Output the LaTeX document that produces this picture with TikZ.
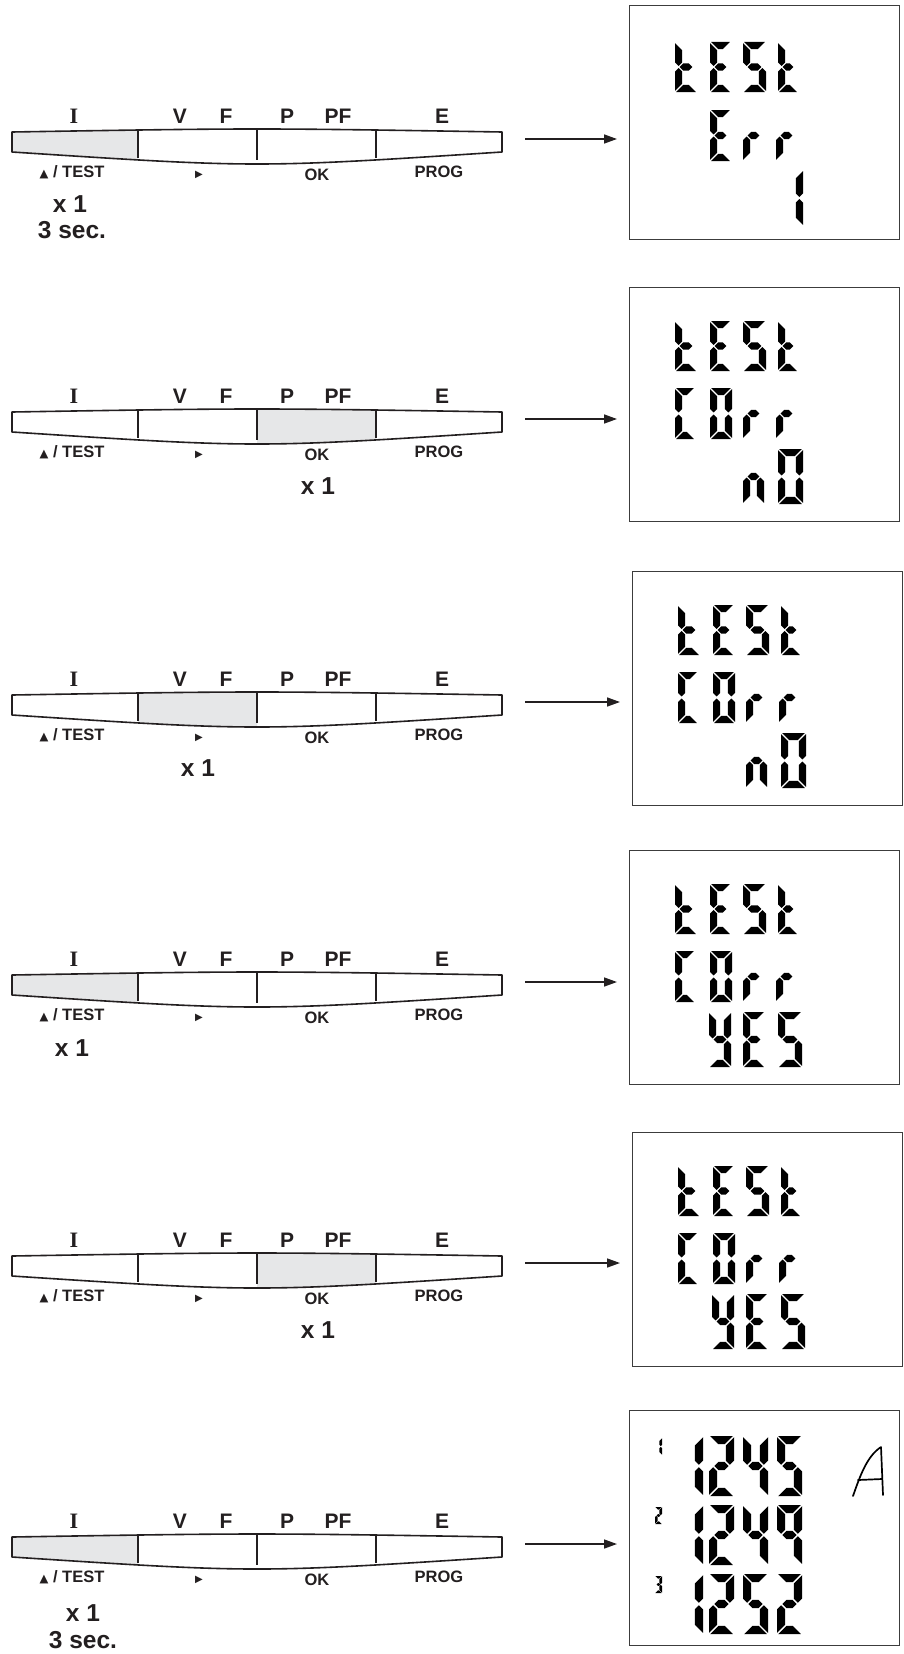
\documentclass[tikz,border=0pt]{standalone}
\usepackage{fontspec}
\usetikzlibrary{arrows.meta}
\newfontfamily\hfont{Liberation Sans}
\newfontfamily\symfont{DejaVu Sans}
\newfontfamily\serfont{Liberation Serif}
\definecolor{ink}{HTML}{231F20}
\definecolor{keyshade}{HTML}{E6E7E8}
\definecolor{frame}{HTML}{3C3C3C}
\tikzset{
 toplbl/.style={font=\hfont\bfseries\fontsize{21}{21}\selectfont, anchor=base, inner sep=0pt, text=ink},
 serlbl/.style={font=\serfont\bfseries\fontsize{22}{22}\selectfont, anchor=base, inner sep=0pt, text=ink},
 botlbl/.style={font=\hfont\bfseries\fontsize{16.5}{16.5}\selectfont, anchor=base, inner sep=0pt, text=ink},
 cnt/.style={font=\hfont\bfseries\fontsize{24.5}{24.5}\selectfont, anchor=base, inner sep=0pt, text=ink},
 barline/.style={draw=ink, line width=1.6pt, line join=round},
 dispbox/.style={draw=frame, line width=1.4pt, minimum width=270pt, minimum height=234pt, anchor=north west, inner sep=0pt},
 flow/.style={draw=ink, line width=1.5pt, -{Triangle[length=13pt,width=9pt]}},
 seg/.style={fill=black},
}
\def\lcdsega{\fill[seg] (\G,0) -- (\W-\G,0) -- (\W-\T-\G,\T) -- (\T+\G,\T) -- cycle;}
\def\lcdsegd{\fill[seg] (\G,\H) -- (\W-\G,\H) -- (\W-\T-\G,\H-\T) -- (\T+\G,\H-\T) -- cycle;}
\def\lcdsegf{\fill[seg] (0,\G) -- (\T,\T+\G) -- (\T,\H/2-\T/2-\G) -- (\T/2,\H/2-\G) -- (0,\H/2-\T/2-\G) -- cycle;}
\def\lcdsege{\fill[seg] (0,\H-\G) -- (\T,\H-\T-\G) -- (\T,\H/2+\T/2+\G) -- (\T/2,\H/2+\G) -- (0,\H/2+\T/2+\G) -- cycle;}
\def\lcdsegb{\fill[seg] (\W,\G) -- (\W-\T,\T+\G) -- (\W-\T,\H/2-\T/2-\G) -- (\W-\T/2,\H/2-\G) -- (\W,\H/2-\T/2-\G) -- cycle;}
\def\lcdsegc{\fill[seg] (\W,\H-\G) -- (\W-\T,\H-\T-\G) -- (\W-\T,\H/2+\T/2+\G) -- (\W-\T/2,\H/2+\G) -- (\W,\H/2+\T/2+\G) -- cycle;}
\def\lcdsegg{\fill[seg] (\T/2+\G,\H/2) -- (\T+\G,\H/2-\T/2) -- (\W-\T-\G,\H/2-\T/2) -- (\W-\T/2-\G,\H/2) -- (\W-\T-\G,\H/2+\T/2) -- (\T+\G,\H/2+\T/2) -- cycle;}
\newcommand\lcd[6]{%
 \begin{scope}[shift={(#1,#2)}]
  \def\W{#3}\def\H{#4}\def\T{#5}\pgfmathsetmacro\G{0.15*#5}
  \foreach \s in #6 {\csname lcdseg\s\endcsname}
 \end{scope}}
% glyph segment lists
\def\Gt{f,e,g,d}\def\GE{a,f,g,e,d}\def\GS{a,f,g,c,d}\def\GC{a,f,e,d}
\def\GO{a,b,c,d,e,f}\def\Gr{e,g}\def\Gn{e,g,c}\def\GY{f,b,g,c,d}
\def\Gone{b,c}\def\Gtwo{a,b,g,e,d}\def\Gfour{f,g,b,c}\def\Gfive{a,f,g,c,d}\def\Gnine{a,b,c,f,g}\def\Gthree{a,b,g,c,d}
\def\TT{7.2}
\newcommand\testline[1]{%
 \lcd{46}{#1}{22}{50}{\TT}{\Gt}\lcd{81}{#1}{21}{50}{\TT}{\GE}
 \lcd{114}{#1}{23}{50}{\TT}{\GS}\lcd{149}{#1}{20}{50}{\TT}{\Gt}}
\newcommand\rline[1]{%
 \lcd{114}{#1}{21}{51}{\TT}{\Gr}\lcd{147}{#1}{21}{51}{\TT}{\Gr}}
\newcommand\corrline{%
 \lcd{46}{101}{20}{51}{\TT}{\GC}\lcd{81}{101}{22}{51}{\TT}{\GO}\rline{101}}
\newcommand\keybar[4]{%
 \begin{scope}[shift={(0,#2)}]
  \begin{scope}
   \clip (#3,-30) rectangle (#4,30);
   \fill[keyshade] (12,-10) .. controls (257,-14) .. (502,-10) -- (502,10) .. controls (257,26) .. (12,10) -- cycle;
  \end{scope}
  \draw[barline] (12,-10) .. controls (257,-14) .. (502,-10) -- (502,10) .. controls (257,26) .. (12,10) -- cycle;
  \draw[barline] (138,-11.5) -- (138,16.1) (257,-12) -- (257,18) (376,-11.5) -- (376,16.1);
  \node[serlbl] at (74,-19) {I};
  \node[toplbl] at (180,-19) {V};
  \node[toplbl] at (226,-19) {F};
  \node[toplbl] at (287,-19) {P};
  \node[toplbl] at (338,-19) {PF};
  \node[toplbl] at (442,-19) {E};
  \node[botlbl] at (72,35) {{\symfont\fontsize{11.5}{11.5}\selectfont ▲} / TEST};
  \node[font=\symfont\fontsize{10}{10}\selectfont, inner sep=0pt, text=ink] at (199,33) {▶};
  \node[botlbl] at (317,38) {OK};
  \node[botlbl] at (439,35) {PROG};
  \coordinate (#1) at (525,-3);
 \end{scope}}
\begin{document}
\begin{tikzpicture}[x=1pt,y=-1pt]
\useasboundingbox[fill=white] (0,0) rectangle (904,1654);
% ---------- row 1
\keybar{k1}{142}{0}{138}
\node[cnt] (c1) at (70,212) {x 1};
\node[cnt] (s1) at (72,238) {3 sec.};
\node[dispbox] (d1) at (629,5) {};
\begin{scope}[shift={(629,5)}]
 \testline{37}
 \lcd{81}{105}{21}{51}{\TT}{\GE}\rline{105}
 \lcd{149}{165}{25}{56}{\TT}{\Gone}
\end{scope}
\draw[flow, shorten >=12pt] (k1) -- (k1 -| d1.west);
% ---------- row 2
\keybar{k2}{422}{257}{376}
\node[cnt] (c2) at (318,494) {x 1};
\node[dispbox] (d2) at (629,287) {};
\begin{scope}[shift={(629,287)}]
 \testline{34}\corrline
 \lcd{114}{162}{21}{55}{\TT}{\Gn}\lcd{149}{162}{25}{55}{\TT}{\GO}
\end{scope}
\draw[flow, shorten >=12pt] (k2) -- (k2 -| d2.west);
% ---------- row 3
\keybar{k3}{705}{138}{257}
\node[cnt] (c3) at (198,776) {x 1};
\node[dispbox] (d3) at (632,571) {};
\begin{scope}[shift={(632,571)}]
 \testline{34}\corrline
 \lcd{114}{162}{21}{55}{\TT}{\Gn}\lcd{149}{162}{25}{55}{\TT}{\GO}
\end{scope}
\draw[flow, shorten >=12pt] (k3) -- (k3 -| d3.west);
% ---------- row 4
\keybar{k4}{985}{0}{138}
\node[cnt] (c4) at (72,1056) {x 1};
\node[dispbox] (d4) at (629,850) {};
\begin{scope}[shift={(629,850)}]
 \testline{34}\corrline
 \lcd{80}{162}{22}{55}{\TT}{\GY}\lcd{114}{162}{22}{55}{\TT}{\GE}\lcd{149}{162}{24}{55}{\TT}{\GS}
\end{scope}
\draw[flow, shorten >=12pt] (k4) -- (k4 -| d4.west);
% ---------- row 5
\keybar{k5}{1266}{257}{376}
\node[cnt] (c5) at (318,1338) {x 1};
\node[dispbox] (d5) at (632,1132) {};
\begin{scope}[shift={(632,1132)}]
 \testline{34}\corrline
 \lcd{80}{162}{22}{55}{\TT}{\GY}\lcd{114}{162}{22}{55}{\TT}{\GE}\lcd{149}{162}{24}{55}{\TT}{\GS}
\end{scope}
\draw[flow, shorten >=12pt] (k5) -- (k5 -| d5.west);
% ---------- row 6
\keybar{k6}{1547}{0}{138}
\node[cnt] (c6) at (83,1621) {x 1};
\node[cnt] (s6) at (83,1648) {3 sec.};
\node[dispbox, minimum height=235pt] (d6) at (629,1410) {};
\begin{scope}[shift={(629,1410)}]
 \lcd{26}{28}{7}{17}{2.6}{\Gone}\lcd{26}{97}{7}{17}{2.6}{\Gtwo}\lcd{26}{166}{7}{17}{2.6}{\Gthree}
 \lcd{49}{26}{25}{60}{8.2}{\Gone}\lcd{80}{26}{25}{60}{8.2}{\Gtwo}\lcd{114}{26}{25}{60}{8.2}{\Gfour}\lcd{148}{26}{25}{60}{8.2}{\Gfive}
 \lcd{49}{95}{25}{60}{8.2}{\Gone}\lcd{80}{95}{25}{60}{8.2}{\Gtwo}\lcd{114}{95}{25}{60}{8.2}{\Gfour}\lcd{148}{95}{25}{60}{8.2}{\Gnine}
 \lcd{49}{164}{25}{60}{8.2}{\Gone}\lcd{80}{164}{25}{60}{8.2}{\Gtwo}\lcd{114}{164}{25}{60}{8.2}{\Gfive}\lcd{148}{164}{25}{60}{8.2}{\Gtwo}
 \draw[line width=1.7pt, line cap=round, line join=round] (224,86) .. controls (231,66) and (238,46) .. (252,37) -- (254,85);
 \draw[line width=1.7pt, line cap=round] (229,70) -- (253,69);
\end{scope}
\draw[flow, shorten >=12pt] (k6) -- (k6 -| d6.west);
\end{tikzpicture}
\end{document}
